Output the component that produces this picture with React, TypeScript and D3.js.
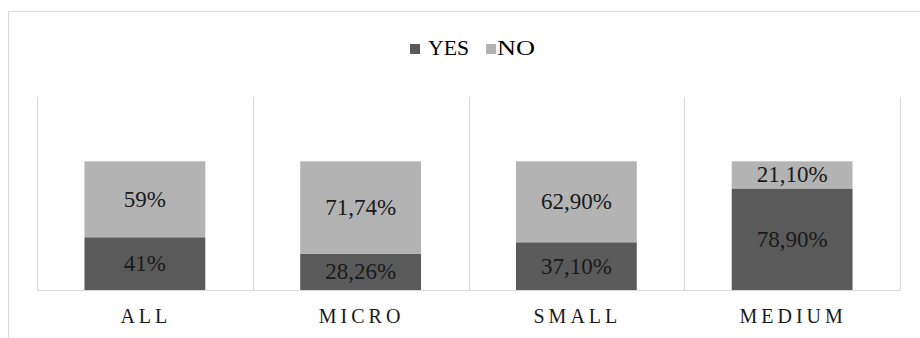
import React from "react";
import * as d3 from "d3";

const categories = ["ALL", "MICRO", "SMALL", "MEDIUM"];
const yesValues = [41, 28.26, 37.1, 78.9];
const noValues = [59, 71.74, 62.9, 21.1];
const yesLabels = ["41%", "28,26%", "37,10%", "78,90%"];
const noLabels = ["59%", "71,74%", "62,90%", "21,10%"];
const seriesNames = ["YES", "NO"];

const W = 920;
const H = 338;
const FONT = "'Liberation Serif'";
const YES_COLOR = "#5a5a5a";
const NO_COLOR = "#b3b3b3";
const GRID = "#d9d9d9";

export default function App() {
  const x = d3.scaleBand<string>().domain(categories).range([37, 900]).paddingInner(0).paddingOuter(0);
  const y = d3.scaleLinear().domain([0, 150]).range([290, 97]);
  const barW = x.bandwidth() * 0.56;

  const rows = categories.map((c, i) => ({ c, YES: yesValues[i], NO: noValues[i] }));
  const stack = d3.stack<any>().keys(seriesNames)(rows);
  const colors = [YES_COLOR, NO_COLOR];
  const labels = [yesLabels, noLabels];

  const boundaries = [...categories.map((c) => x(c) as number), 900];

  return (
    <svg width={W} height={H} style={{ position: "absolute", left: 0, top: 0, background: "#fff" }}>
      <rect x={0} y={0} width={W} height={H} fill="#fff" />
      <line x1={8} x2={W} y1={11.5} y2={11.5} stroke={GRID} strokeWidth={1} />
      <line x1={8.5} x2={8.5} y1={11} y2={H} stroke={GRID} strokeWidth={1} />

      {/* legend */}
      <g style={{ fontFamily: FONT }} fontSize={21} fill="#000">
        <rect x={410} y={44} width={10} height={10} fill={YES_COLOR} />
        <text x={428} y={55} textLength={41} lengthAdjust="spacingAndGlyphs">YES</text>
        <rect x={486} y={44} width={10} height={10} fill={NO_COLOR} />
        <text x={497} y={55} textLength={38} lengthAdjust="spacingAndGlyphs">NO</text>
      </g>

      {/* gridlines */}
      {boundaries.map((b, i) => (
        <line key={i} x1={Math.round(b) + 0.5} x2={Math.round(b) + 0.5} y1={97} y2={290} stroke={GRID} />
      ))}

      {/* bars */}
      {stack.map((s, si) =>
        s.map((d, i) => {
          const cx = (x(categories[i]) as number) + x.bandwidth() / 2;
          const y0 = y(d[0]);
          const y1 = y(d[1]);
          return (
            <g key={`${si}-${i}`}>
              <rect x={cx - barW / 2} y={y1} width={barW} height={y0 - y1} fill={colors[si]} />
              <text
                x={cx}
                y={(y0 + y1) / 2 + 7.5}
                textAnchor="middle"
                style={{ fontFamily: FONT }}
                fontSize={23}
                fill="#1a1a1a"
              >
                {labels[si][i]}
              </text>
            </g>
          );
        })
      )}

      {/* baseline */}
      <line x1={37} x2={900} y1={290.5} y2={290.5} stroke={GRID} />

      {/* category labels */}
      {categories.map((c) => (
        <text
          key={c}
          x={(x(c) as number) + x.bandwidth() / 2 + 1}
          y={323}
          textAnchor="middle"
          style={{ fontFamily: FONT }}
          fontSize={20}
          letterSpacing={4}
          fill="#1a1a1a"
        >
          {c}
        </text>
      ))}
    </svg>
  );
}
